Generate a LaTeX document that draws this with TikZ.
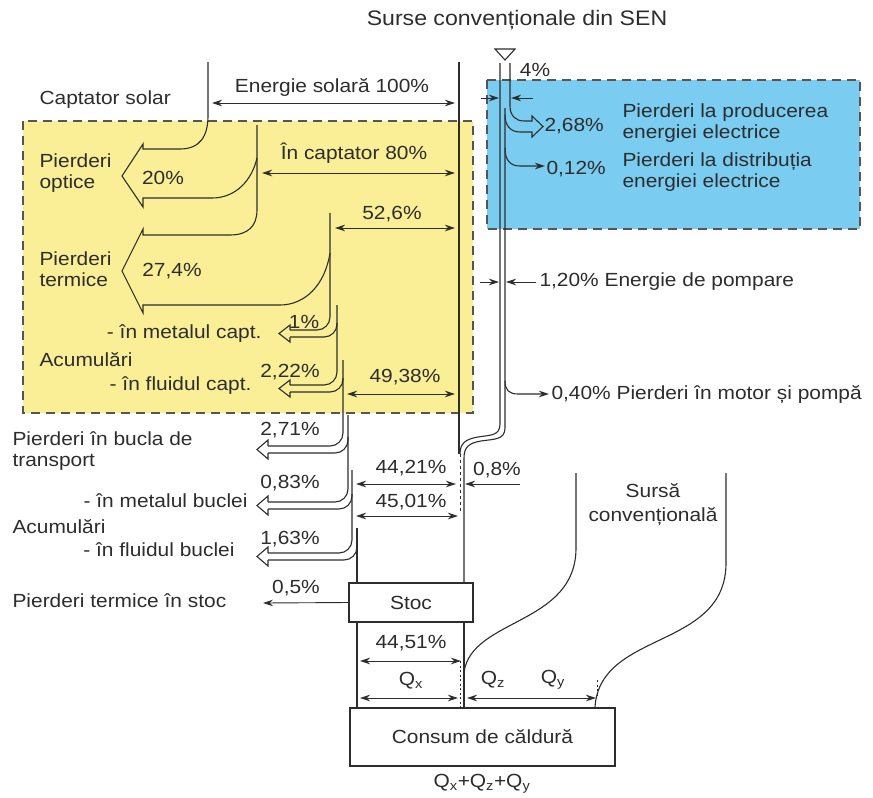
\documentclass[tikz,border=0pt]{standalone}
\usepackage{fontspec}
\setmainfont{Liberation Sans}[FakeStretch=1.1]
\usetikzlibrary{arrows.meta}
\definecolor{ink}{RGB}{45,45,45}
\definecolor{solar}{RGB}{250,238,150}
\definecolor{sen}{RGB}{122,204,240}
\definecolor{dashc}{RGB}{85,85,85}
\begin{document}
\begin{tikzpicture}[x=1pt,y=-1pt,line width=1.1pt,color=ink,
  txt/.style={inner sep=0pt,font=\fontsize{19}{21}\selectfont},
  dim/.style={{Stealth[length=10pt,width=6.5pt]}-{Stealth[length=10pt,width=6.5pt]},line width=0.9pt},
  tipar/.style={-{Stealth[length=10pt,width=6.5pt]},line width=0.9pt},
  bound/.style={dash pattern=on 9pt off 6pt,line width=1.6pt,draw=dashc},
  hk/.style={rounded corners=13pt},
  boxn/.style={draw,fill=white,inner sep=0pt,font=\fontsize{19}{21}\selectfont}]
\useasboundingbox (0,0) rectangle (873,798);
\fill[white] (0,0) rectangle (873,798);
% coloured regions
\fill[solar] (23,121) rectangle (473,413);
\fill[sen] (487,80) rectangle (860,229);
\draw[bound] (23,121) rectangle (473,413);
\draw[bound] (487,80) rectangle (860,229);

% ---------- solar flow ----------
% 20% optical losses
\draw (208,62) -- (208,116) .. controls (208,136) and (200,149) .. (180,149) -- (143,149)
  -- (143,144) -- (122,176) -- (143,207) -- (143,198) -- (212,198)
  .. controls (236,198) and (252,180) .. (257,158);
% 27.4% thermal losses
\draw (257,125) -- (257,210) .. controls (257,226) and (248,235) .. (230,235) -- (143,235)
  -- (143,229) -- (122,271) -- (143,313) -- (143,305) -- (280,305)
  .. controls (305,305) and (325,285) .. (330,253);
% main right wall
\draw (459,62) -- (459,454);
% small hooks
\draw[hk] (330,213) -- (330,330) -- (290,330);
\draw[hk] (337,323) -- (337,337) -- (290,337);
\draw (290,330) -- (290,325) -- (279,333.5) -- (290,342) -- (290,337);
\draw[hk] (337,305) -- (337,385) -- (290,385);
\draw[hk] (343,378) -- (343,392) -- (290,392);
\draw (290,385) -- (290,380) -- (279,388.5) -- (290,397) -- (290,392);
\draw[hk] (343,360) -- (343,446) -- (268,446);
\draw[hk] (348,437) -- (348,453) -- (268,453);
\draw (268,446) -- (268,440) -- (257,449.5) -- (268,459) -- (268,453);
\draw[hk] (348,415) -- (348,502) -- (268,502);
\draw[hk] (352,494) -- (352,509) -- (268,509);
\draw (268,502) -- (268,496) -- (257,505.5) -- (268,515) -- (268,509);
\draw[hk] (352,470) -- (352,553) -- (268,553);
\draw[hk] (357,545) -- (357,560) -- (268,560);
\draw (268,553) -- (268,547) -- (257,556.5) -- (268,566) -- (268,560);

% Stoc and Consum
\node[boxn,minimum width=124pt,minimum height=39pt] (stoc) at (411,602.5) {Stoc};
\node[boxn,minimum width=265pt,minimum height=58pt] (cons) at (482.5,737) {Consum de căldură};
\draw (357,528) -- (357,583);
\draw (357,622) -- (357,708);
\draw (464,622) -- (464,708);
\coordinate (l05) at (263,603);
\draw[tipar] (stoc.west) -- (l05);

% ---------- SEN pipe ----------
\draw (495,49) -- (515,49) -- (505,60) -- cycle;
\draw (500,63) -- (500,424) .. controls (500,436) and (490,435) .. (478,437)
  .. controls (466,439) and (460,443) .. (460,454);
\draw (505,108) -- (505,428) .. controls (505,440) and (494,439) .. (481,441)
  .. controls (469,443) and (464,447) .. (464,458) -- (464,583);
\draw[dash pattern=on 3pt off 3pt,line width=0.9pt] (460,454) -- (460,512);
% 2.68% hook
\draw (510,63) -- (510,106) .. controls (510,116) and (516,121) .. (524,121) -- (532,121)
  -- (532,116) -- (543,126.5) -- (532,137) -- (532,132) -- (520,132)
  .. controls (510,132) and (505,125) .. (505,115);
% 0.12% and 0.40% branches
\draw[tipar,line width=1.1pt] (505,148) .. controls (505,160) and (510,166) .. (520,166) -- (545,166);
\draw[tipar,line width=1.1pt] (505,381) .. controls (505,390) and (509,394) .. (518,394) -- (549,394);

% conventional source
\draw (576,473) -- (576,548) .. controls (576,625) and (472,618) .. (464,672);
\draw (726,473) -- (726,563) .. controls (726,650) and (600,630) .. (595,707);

% ---------- dimension arrows ----------
\draw[dim] (212,103) -- (455,103);
\draw[dim] (262,173) -- (455,173);
\draw[dim] (335,228) -- (455,228);
\draw[dim] (347,394) -- (455,394);
\draw[dim] (356,484) -- (456,484);
\draw[dim] (356,516) -- (458,516);
\draw[dim] (360,661) -- (461,661);
\draw[dim] (360,698) -- (458,698);
\draw[dim] (467,698) -- (596,698);
\draw[tipar] (520,484) -- (465,484);
\draw[tipar] (481,98) -- (499,98);
\draw[tipar] (533,98) -- (511,98);
\draw[tipar] (480,282) -- (499,282);
\draw[tipar] (536,282) -- (506,282);
\draw[dash pattern=on 2pt off 2.5pt,line width=0.9pt] (460,661) -- (460,708);
\draw[dash pattern=on 2pt off 2.5pt,line width=0.9pt] (597,680) -- (597,698);

% ---------- texts ----------
\node[txt,font=\fontsize{21}{23}\selectfont] (title) at (517,20) {Surse convenționale din SEN};
\node[txt,anchor=west] (capt) at (39,100) {Captator solar};
\node[txt] (t100) at (332,87) {Energie solară 100\%};
\node[txt] (t80) at (354,153) {În captator 80\%};
\node[txt] (t526) at (392,214) {52,6\%};
\node[txt,anchor=west,align=left] (popt) at (39,173) {Pierderi\\optice};
\node[txt] (t20) at (163,178) {20\%};
\node[txt,anchor=west,align=left] (pterm) at (39,269) {Pierderi\\termice};
\node[txt] (t274) at (172,271) {27,4\%};
\node[txt] (t1) at (304,322) {1\%};
\node[txt,anchor=east] (mcapt) at (262,334) {- în metalul capt.};
\node[txt,anchor=west] (acum1) at (39,360) {Acumulări};
\node[txt] (t222) at (290,372) {2,22\%};
\node[txt,anchor=east] (fcapt) at (252,386) {- în fluidul capt.};
\node[txt] (t4938) at (405,377) {49,38\%};
\node[txt] (t271) at (290,430) {2,71\%};
\node[txt,anchor=west,align=left] (pbucla) at (12,451) {Pierderi în bucla de\\transport};
\node[txt] (t083) at (290,483) {0,83\%};
\node[txt,anchor=east] (mbuc) at (248,501) {- în metalul buclei};
\node[txt,anchor=west] (acum2) at (12,527) {Acumulări};
\node[txt] (t163) at (290,539) {1,63\%};
\node[txt,anchor=east] (fbuc) at (235,550) {- în fluidul buclei};
\node[txt] (t05) at (296,588) {0,5\%};
\node[txt,anchor=west] (pstoc) at (12,601) {Pierderi termice în stoc};
\node[txt] (t4421) at (411,468) {44,21\%};
\node[txt] (t4501) at (411,502) {45,01\%};
\node[txt] (t08) at (497,470) {0,8\%};
\node[txt] (t4451) at (411,643) {44,51\%};
\node[txt] (qx) at (411,681) {Q\textsubscript{x}};
\node[txt] (qz) at (493,680) {Q\textsubscript{z}};
\node[txt] (qy) at (553,680) {Q\textsubscript{y}};
\node[txt] (qsum) at (482,784) {Q\textsubscript{x}+Q\textsubscript{z}+Q\textsubscript{y}};
\node[txt,align=center,font=\fontsize{19}{24}\selectfont] (sconv) at (653,505) {Sursă\\convențională};
\node[txt] (t4) at (535,70) {4\%};
\node[txt,anchor=west] (t268) at (544,126) {2,68\%};
\node[txt,anchor=west,align=left] (pprod) at (622,123) {Pierderi la producerea\\energiei electrice};
\node[txt,anchor=west] (t012) at (546,169) {0,12\%};
\node[txt,anchor=west,align=left] (pdist) at (622,172) {Pierderi la distribuția\\energiei electrice};
\node[txt,anchor=west] (tpomp) at (539,282) {1,20\% Energie de pompare};
\node[txt,anchor=west] (tmot) at (551,395) {0,40\% Pierderi în motor și pompă};
\end{tikzpicture}
\end{document}
